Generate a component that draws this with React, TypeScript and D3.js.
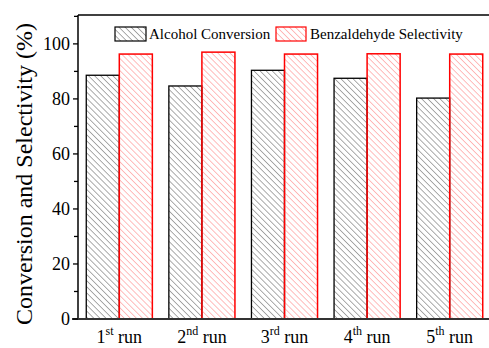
import React from 'react';
import * as d3 from 'd3';

const runs = ['1', '2', '3', '4', '5'];
const suffixes = ['st', 'nd', 'rd', 'th', 'th'];
const conversion = [88.6, 84.7, 90.4, 87.5, 80.3];
const selectivity = [96.3, 97.0, 96.3, 96.4, 96.3];
const yTicks = [0, 20, 40, 60, 80, 100];
const yMinor = [10, 30, 50, 70, 90, 110];

const W = 489;
const H = 348;
const left = 78;
const top = 15;
const bottom = 319;
const FONT = "'Times New Roman', Times, 'Liberation Serif', serif";

const App = () => {
  const x = d3.scaleBand().domain(runs).range([left, 491]).paddingInner(0.2).paddingOuter(0.1);
  const sub = d3.scaleBand().domain(['c', 's']).range([0, x.bandwidth()]);
  const y = d3.scaleLinear().domain([0, 110.5]).range([bottom, top]);

  return (
    <svg width={W} height={H} style={{ position: 'absolute', left: 0, top: 0, background: '#fff', fontFamily: FONT }}>
      <defs>
        <pattern id="hatchBlack" patternUnits="userSpaceOnUse" width="4.3" height="4.3"
          patternTransform="rotate(-45)">
          <line x1="0" y1="0" x2="0" y2="4.3" stroke="#444" strokeWidth="0.9" />
        </pattern>
        <pattern id="hatchRed" patternUnits="userSpaceOnUse" width="4.3" height="4.3"
          patternTransform="rotate(-45)">
          <line x1="0" y1="0" x2="0" y2="4.3" stroke="#ff6a6a" strokeWidth="0.9" />
        </pattern>
      </defs>

      {runs.map((r, i) => (
        <g key={r}>
          <rect x={x(r)! + sub('c')!} y={y(conversion[i])} width={sub.bandwidth()}
            height={y(0) - y(conversion[i])} fill="url(#hatchBlack)" stroke="#000" strokeWidth={1.3} />
          <rect x={x(r)! + sub('s')!} y={y(selectivity[i])} width={sub.bandwidth()}
            height={y(0) - y(selectivity[i])} fill="url(#hatchRed)" stroke="#ff0000" strokeWidth={1.5} />
        </g>
      ))}

      {/* frame */}
      <line x1={left} x2={W} y1={top} y2={top} stroke="#000" strokeWidth={1.5} />
      <line x1={left} x2={left} y1={top} y2={bottom} stroke="#000" strokeWidth={1.5} />
      <line x1={left - 6} x2={W} y1={bottom} y2={bottom} stroke="#333" strokeWidth={2} />

      {yTicks.map(t => (
        <g key={t}>
          <line x1={left - 5} x2={left} y1={y(t)} y2={y(t)} stroke="#000" strokeWidth={1.3} />
          <text x={left - 8} y={y(t) + 6} textAnchor="end" fontSize={18}>{t}</text>
        </g>
      ))}
      {yMinor.map(t => (
        <line key={t} x1={left - 4} x2={left} y1={y(t)} y2={y(t)} stroke="#000" strokeWidth={1.3} />
      ))}

      {runs.map((r, i) => (
        <text key={r} x={x(r)! + x.bandwidth() / 2} y={343} textAnchor="middle" fontSize={18}>
          {r}
          <tspan fontSize={12} dy={-8}>{suffixes[i]}</tspan>
          <tspan dy={8}>{' run'}</tspan>
        </text>
      ))}

      <text transform={`translate(32,174) rotate(-90)`} textAnchor="middle" fontSize={24}>
        Conversion and Selectivity (%)
      </text>

      {/* legend */}
      <rect x={115} y={27} width={31} height={14} fill="url(#hatchBlack)" stroke="#000" strokeWidth={1.2} />
      <text x={149} y={39} fontSize={15}>Alcohol Conversion</text>
      <rect x={276} y={27} width={30} height={14} fill="url(#hatchRed)" stroke="#ff0000" strokeWidth={1.2} />
      <text x={310} y={39} fontSize={15}>Benzaldehyde Selectivity</text>
    </svg>
  );
};

export default App;
